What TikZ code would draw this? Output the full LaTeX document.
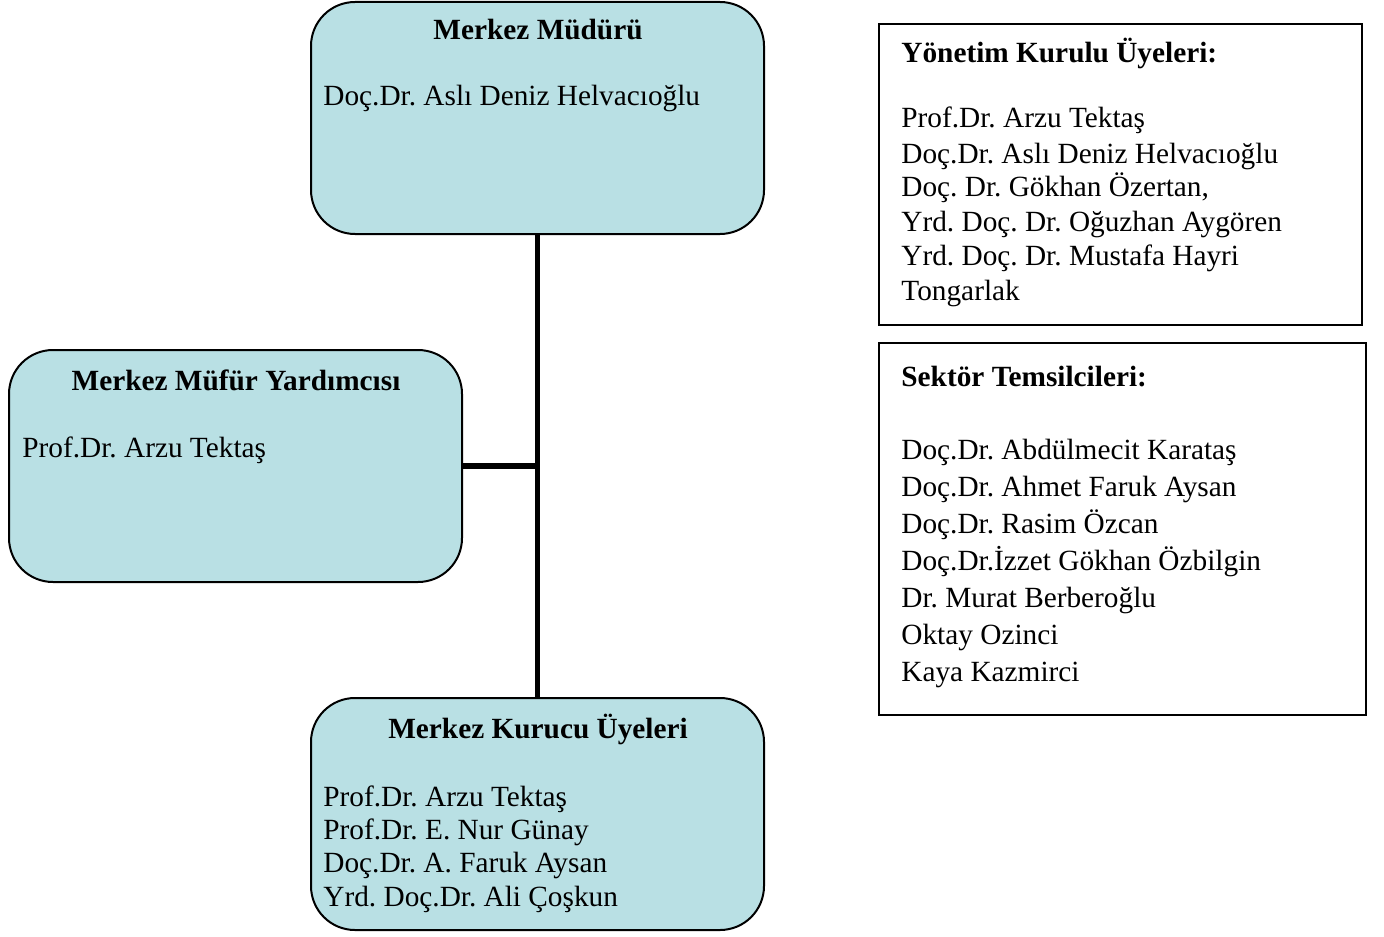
\documentclass[tikz,border=0pt]{standalone}
\usepackage{fontspec}
\setmainfont{Liberation Serif}
\definecolor{boxfill}{RGB}{185,224,228}
\frenchspacing
\begin{document}
\begin{tikzpicture}[x=0.5pt,y=-0.5pt,
  rbox/.style={draw=black,line width=1pt,fill=boxfill,rounded corners=22pt,inner sep=0pt,minimum width=226.5pt,minimum height=116pt},
  sbox/.style={draw=black,line width=1pt,inner sep=0pt},
  conn/.style={line width=2.6pt,black},
  txt/.style={inner sep=0pt,anchor=base west,font=\fontsize{14.65}{17}\selectfont\frenchspacing},
  head/.style={inner sep=0pt,anchor=base,font=\fontsize{14.65}{17}\selectfont\bfseries\frenchspacing},
  headw/.style={inner sep=0pt,anchor=base west,font=\fontsize{14.65}{17}\selectfont\bfseries\frenchspacing}]
\useasboundingbox (0,0) rectangle (1384,936);
% rounded boxes
\node[rbox] (top) at (537.5,118) {};
\node[rbox] (left) at (235.5,466) {};
\node[rbox] (bot) at (537.5,814) {};
% connectors
\draw[conn] (top.south) -- (bot.north);
\coordinate (junc) at (left.east -| top.south);
\draw[conn] (left.east) -- (junc);
% right boxes
\node[sbox,minimum width=241.5pt,minimum height=150.5pt] (yk) at (1120.5,174.5) {};
\node[sbox,minimum width=243.5pt,minimum height=186pt] (st) at (1122.5,529) {};
% top box text
\node[head] (h1) at (538,40) {Merkez Müdürü};
\node[txt] (t1) at (323,106) {Doç.Dr. Aslı Deniz Helvacıoğlu};
% left box text
\node[head] (h2) at (236,390) {Merkez Müfür Yardımcısı};
\node[txt] (t2) at (22,457) {Prof.Dr. Arzu Tektaş};
% bottom box text
\node[head] (h3) at (538,738) {Merkez Kurucu Üyeleri};
\node[txt] (b1) at (323,806) {Prof.Dr. Arzu Tektaş};
\node[txt] (b2) at (323,839) {Prof.Dr. E. Nur Günay};
\node[txt] (b3) at (323,872) {Doç.Dr. A. Faruk Aysan};
\node[txt] (b4) at (323,906) {Yrd. Doç.Dr. Ali Çoşkun};
% right box 1
\node[headw] (h4) at (901,63) {Yönetim Kurulu Üyeleri:};
\node[txt] (y1) at (901,128) {Prof.Dr. Arzu Tektaş};
\node[txt] (y2) at (901,163) {Doç.Dr. Aslı Deniz Helvacıoğlu};
\node[txt] (y3) at (901,197) {Doç. Dr. Gökhan Özertan,};
\node[txt] (y4) at (901,231) {Yrd. Doç. Dr. Oğuzhan Aygören};
\node[txt] (y5) at (901,265) {Yrd. Doç. Dr. Mustafa Hayri};
\node[txt] (y6) at (901,300) {Tongarlak};
% right box 2
\node[headw] (h5) at (901,386) {Sektör Temsilcileri:};
\node[txt] (s1) at (901,459) {Doç.Dr. Abdülmecit Karataş};
\node[txt] (s2) at (901,496) {Doç.Dr. Ahmet Faruk Aysan};
\node[txt] (s3) at (901,533) {Doç.Dr. Rasim Özcan};
\node[txt] (s4) at (901,570) {Doç.Dr.İzzet Gökhan Özbilgin};
\node[txt] (s5) at (901,607) {Dr. Murat Berberoğlu};
\node[txt] (s6) at (901,644) {Oktay Ozinci};
\node[txt] (s7) at (901,681) {Kaya Kazmirci};
\end{tikzpicture}
\end{document}
